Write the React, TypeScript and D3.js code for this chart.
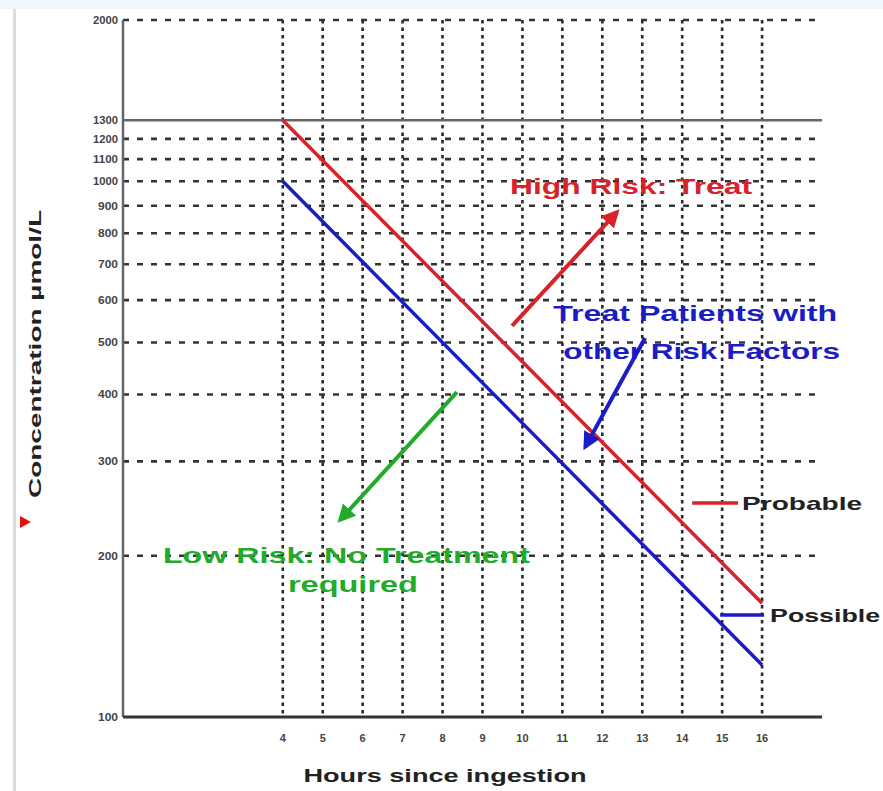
import * as d3 from 'd3';

// hours on the x axis, concentration (µmol/L) on a log y axis
const hourTicks = [4, 5, 6, 7, 8, 9, 10, 11, 12, 13, 14, 15, 16];
const hourLabels = ['4', '5', '6', '7', '8', '9', '10', '11', '12', '13', '14', '15', '16'];
const concTicks = [100, 200, 300, 400, 500, 600, 700, 800, 900, 1000, 1100, 1200, 1300, 2000];
const dashedGrid = [200, 300, 400, 500, 600, 700, 800, 900, 1000, 1100, 1200, 2000];
const solidGrid = [1300];

const probable = [{ h: 4, c: 1300 }, { h: 16, c: 163 }];
const possible = [{ h: 4, c: 1000 }, { h: 16, c: 125 }];

// annotation arrows, in data units
const arrows = [
  { from: [9.74, 537], to: [12.37, 877], color: '#d8222a', id: 'red' },
  { from: [13.07, 510], to: [11.57, 319], color: '#1c1cc4', id: 'blue' },
  { from: [8.36, 404], to: [5.43, 233], color: '#22aa2a', id: 'green' },
];

const labels = [
  { text: 'High Risk: Treat', h: 9.69, c: 946, color: '#d8222a', len: 242 },
  { text: 'Treat Patients with', h: 10.77, c: 548, color: '#1c1cc4', len: 284 },
  { text: 'other Risk Factors', h: 11.02, c: 466, color: '#1c1cc4', len: 277 },
  { text: 'Low Risk: No Treatment', h: 1.0, c: 194, color: '#22aa2a', len: 367 },
  { text: 'required', h: 4.13, c: 171, color: '#22aa2a', len: 130 },
];

const legend = [
  { name: 'Probable', h0: 14.25, h1: 15.4, c: 251, color: '#d8222a', textH: 15.5, len: 120 },
  { name: 'Possible', h0: 14.95, h1: 16.05, c: 155, color: '#1c1cc4', textH: 16.2, len: 110 },
];

const W = 883;
const H = 791;

export default function App() {
  const x = d3.scaleLinear().domain([0, 17.5]).range([123, 822]);
  const y = d3.scaleLog().domain([100, 2000]).range([717, 20]);
  const line = d3.line<{ h: number; c: number }>().x(d => x(d.h)).y(d => y(d.c));

  const font = '"Liberation Sans", Arial, sans-serif';

  return (
    <div style={{ position: 'absolute', left: 0, top: 0 }}>
      <svg width={W} height={H} style={{ display: 'block', background: '#fff' }}>
        <defs>
          {arrows.map(a => (
            <marker key={a.id} id={`head-${a.id}`} viewBox="0 0 10 10" refX="8" refY="5"
              markerWidth="4.5" markerHeight="4.5" orient="auto">
              <path d="M0,0 L10,5 L0,10 z" fill={a.color} />
            </marker>
          ))}
        </defs>

        <rect x={0} y={0} width={W} height={9} fill="#eef7fb" />
        <line x1={14.5} x2={14.5} y1={9} y2={H} stroke="#dcdcdc" strokeWidth={3} />

        {/* vertical dotted grid */}
        {hourTicks.map(t => (
          <line key={`v${t}`} x1={x(t)} x2={x(t)} y1={y(2000)} y2={y(100)}
            stroke="#2a2a2a" strokeWidth={2.6} strokeDasharray="3.5 4" />
        ))}

        {/* horizontal dashed grid */}
        {dashedGrid.map(v => (
          <line key={`h${v}`} x1={x(0)} x2={x(17.5)} y1={y(v)} y2={y(v)}
            stroke="#333" strokeWidth={2.6} strokeDasharray="6 8" />
        ))}
        {solidGrid.map(v => (
          <line key={`s${v}`} x1={x(0)} x2={x(17.5)} y1={y(v)} y2={y(v)}
            stroke="#666" strokeWidth={2.5} />
        ))}

        {/* axes */}
        <line x1={x(0)} x2={x(0)} y1={y(2000)} y2={y(100)} stroke="#666" strokeWidth={2.5} />
        <line x1={x(0)} x2={x(17.5)} y1={y(100)} y2={y(100)} stroke="#333" strokeWidth={3} />

        {concTicks.map(v => (
          <text key={`yl${v}`} x={118} y={y(v)} dy="0.35em" textAnchor="end"
            fontFamily={font} fontSize={11} fontWeight="bold" fill="#444"
            textLength={v >= 1000 ? 25 : 20} lengthAdjust="spacingAndGlyphs">{v}</text>
        ))}
        {hourTicks.map((t, i) => (
          <text key={`xl${t}`} x={x(t)} y={742} textAnchor="middle"
            fontFamily={font} fontSize={11} fontWeight="bold" fill="#444">{hourLabels[i]}</text>
        ))}

        {/* nomogram lines */}
        <path d={line(probable) ?? ''} fill="none" stroke="#d8222a" strokeWidth={3.5} />
        <path d={line(possible) ?? ''} fill="none" stroke="#1c1cc4" strokeWidth={3.5} />

        {/* arrows */}
        {arrows.map(a => (
          <line key={`a${a.id}`} x1={x(a.from[0])} y1={y(a.from[1])} x2={x(a.to[0])} y2={y(a.to[1])}
            stroke={a.color} strokeWidth={4} markerEnd={`url(#head-${a.id})`} />
        ))}

        {/* annotation labels */}
        {labels.map(l => (
          <text key={l.text} x={x(l.h)} y={y(l.c)} fontFamily={font} fontSize={22} fontWeight="bold"
            fill={l.color} textLength={l.len} lengthAdjust="spacingAndGlyphs">{l.text}</text>
        ))}

        {/* legend */}
        {legend.map(l => (
          <g key={l.name}>
            <line x1={x(l.h0)} x2={x(l.h1)} y1={y(l.c)} y2={y(l.c)} stroke={l.color} strokeWidth={3.5} />
            <text x={x(l.textH)} y={y(l.c)} dy="0.36em" fontFamily={font} fontSize={19} fontWeight="bold"
              fill="#222" textLength={l.len} lengthAdjust="spacingAndGlyphs">{l.name}</text>
          </g>
        ))}

        {/* axis titles */}
        <text x={445} y={782} textAnchor="middle" fontFamily={font} fontSize={18} fontWeight="bold"
          fill="#222" textLength={283} lengthAdjust="spacingAndGlyphs">Hours since ingestion</text>
        <text transform="translate(41,354) rotate(-90)" textAnchor="middle" fontFamily={font}
          fontSize={17} fontWeight="bold" fill="#222" textLength={288}
          lengthAdjust="spacingAndGlyphs">Concentration  µmol/L</text>
        <path d="M20,516 L31,522 L20,528 z" fill="#e01010" />
      </svg>
    </div>
  );
}
